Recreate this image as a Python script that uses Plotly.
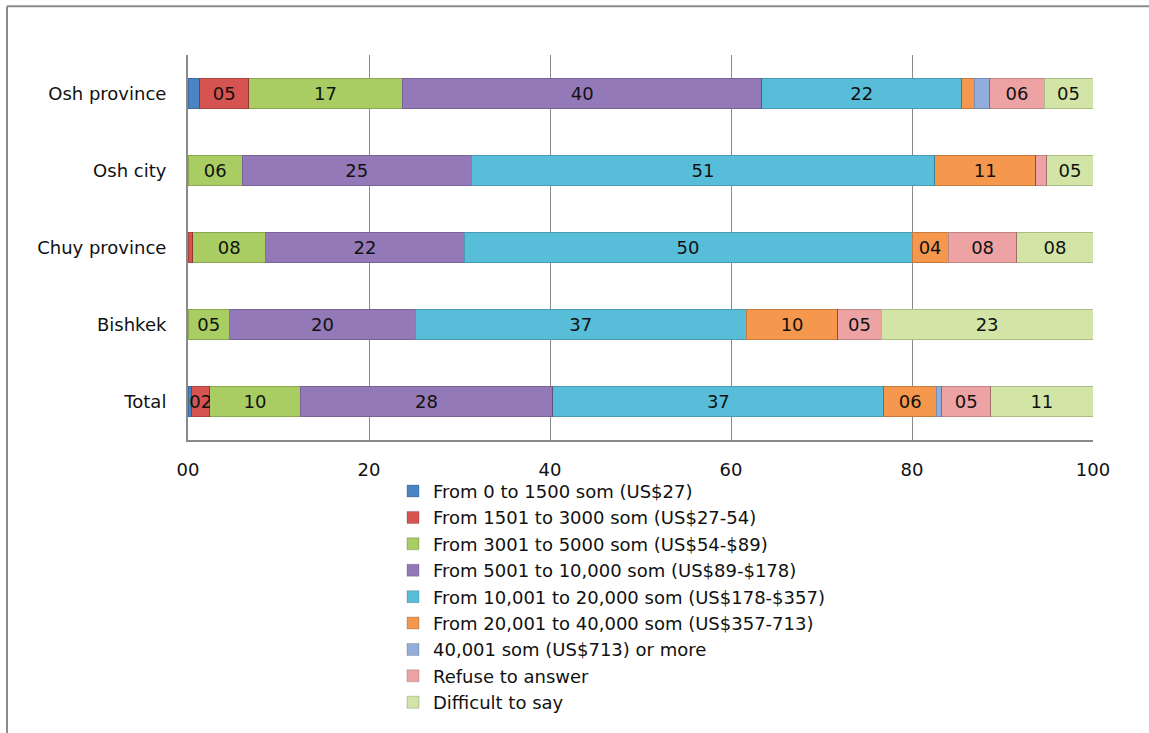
import plotly.graph_objects as go

# Regions (bottom to top on the chart)
regions = ["Total", "Bishkek", "Chuy province", "Osh city", "Osh province"]

# Share of respondents (%) by monthly household income bracket
income_0_1500 = [0.4, 0.0, 0.0, 0.0, 1.3]
income_1501_3000 = [2.0, 0.0, 0.5, 0.0, 5.4]
income_3001_5000 = [10.0, 4.6, 8.1, 6.0, 17.0]
income_5001_10000 = [27.9, 20.5, 21.9, 25.3, 39.7]
income_10001_20000 = [36.6, 36.6, 49.5, 51.2, 22.1]
income_20001_40000 = [5.8, 10.1, 4.0, 11.2, 1.4]
income_40001_plus = [0.6, 0.0, 0.0, 0.0, 1.7]
refuse_to_answer = [5.4, 4.8, 7.6, 1.2, 6.0]
difficult_to_say = [11.3, 23.4, 8.4, 5.1, 5.4]

series_names = [
    "From 0 to 1500 som (US$27)",
    "From 1501 to 3000 som (US$27-54)",
    "From 3001 to 5000 som (US$54-$89)",
    "From 5001 to 10,000 som (US$89-$178)",
    "From 10,001 to 20,000 som (US$178-$357)",
    "From 20,001 to 40,000 som (US$357-713)",
    "40,001 som (US$713) or more",
    "Refuse to answer",
    "Difficult to say",
]
series_values = [
    income_0_1500, income_1501_3000, income_3001_5000, income_5001_10000,
    income_10001_20000, income_20001_40000, income_40001_plus,
    refuse_to_answer, difficult_to_say,
]
colors = [
    "#4A84C4", "#D55350", "#A9CD62", "#9479B8", "#58BDD8",
    "#F5974C", "#94AEDC", "#EDA3A3", "#D2E5A6",
]

x_ticks = [0, 20, 40, 60, 80, 100]
x_tick_labels = ["00", "20", "40", "60", "80", "100"]

FONT = "DejaVu Sans, Verdana, sans-serif"
FS = 18

fig = go.Figure()
for name, vals, col in zip(series_names, series_values, colors):
    labels = [f"{round(v):02d}" if v >= 2 else "" for v in vals]
    fig.add_trace(go.Bar(
        name=name,
        y=regions,
        x=vals,
        orientation="h",
        marker=dict(color=col, line=dict(color="rgba(0,0,0,0.18)", width=1)),
        text=labels,
        textposition="inside",
        insidetextanchor="middle",
        constraintext="none",
        textangle=0,
        textfont=dict(family=FONT, size=FS, color="#111111"),
        hoverinfo="name+x",
    ))

W, H = 1149, 733
L, R, T, B = 188, 56, 55, 291
pw, ph = W - L - R, H - T - B


def px_x(p):
    return (p - L) / pw


def px_y(p):
    return (H - B - p) / ph


fig.update_layout(
    width=W,
    height=H,
    barmode="stack",
    bargap=0.61,
    paper_bgcolor="white",
    plot_bgcolor="white",
    margin=dict(l=L, r=R, t=T, b=B),
    font=dict(family=FONT, size=FS, color="#111111"),
    xaxis=dict(
        range=[0, 100],
        tickvals=x_ticks,
        ticktext=x_tick_labels,
        showgrid=True,
        gridcolor="#8A8A8A",
        gridwidth=1,
        showline=True,
        linecolor="#8A8A8A",
        linewidth=2,
        ticks="",
        ticklabelstandoff=12,
        zeroline=False,
        tickfont=dict(family=FONT, size=FS, color="#111111"),
        fixedrange=True,
    ),
    yaxis=dict(
        categoryorder="array",
        categoryarray=regions,
        showline=True,
        linecolor="#8A8A8A",
        linewidth=2,
        ticks="",
        ticklabelstandoff=16,
        showgrid=False,
        tickfont=dict(family=FONT, size=FS, color="#111111"),
        fixedrange=True,
    ),
    legend=dict(
        orientation="v",
        traceorder="normal",
        x=px_x(393),
        y=px_y(475),
        xanchor="left",
        yanchor="top",
        font=dict(family=FONT, size=FS, color="#111111"),
        bgcolor="rgba(0,0,0,0)",
        itemclick=False,
        itemdoubleclick=False,
    ),
    showlegend=True,
    shapes=[
        dict(type="line", xref="paper", yref="paper",
             x0=px_x(7), x1=px_x(W + 5), y0=px_y(6), y1=px_y(6),
             line=dict(color="#8C8C8C", width=2)),
        dict(type="line", xref="paper", yref="paper",
             x0=px_x(7), x1=px_x(7), y0=px_y(6), y1=px_y(H + 5),
             line=dict(color="#8C8C8C", width=2)),
    ],
)

fig.write_html("out.html")
